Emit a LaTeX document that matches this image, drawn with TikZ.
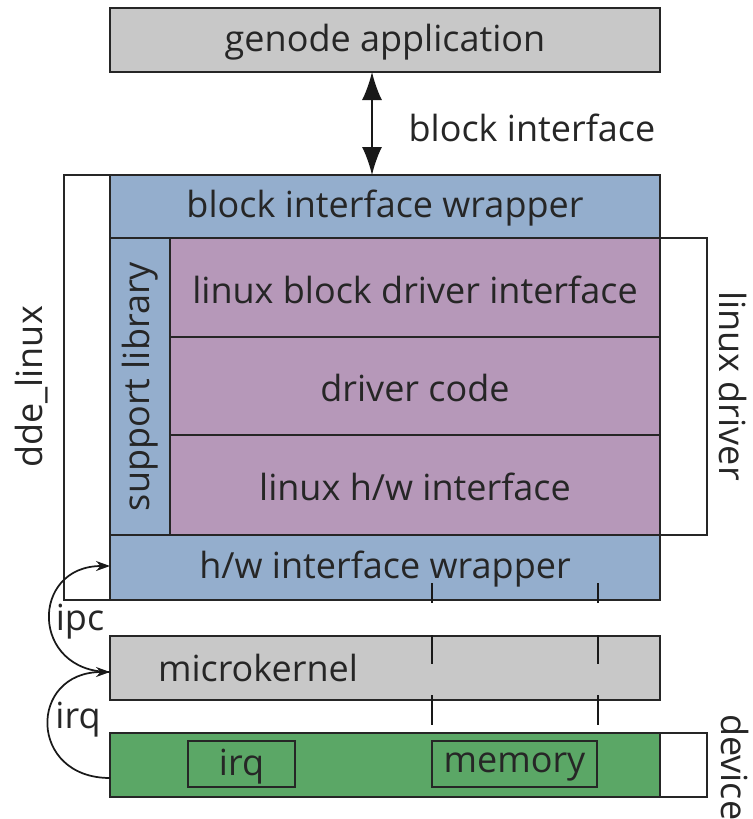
\documentclass[tikz,border=0pt]{standalone}
\usepackage{fontspec}
\setmainfont{Open Sans}
\usetikzlibrary{arrows.meta}
\definecolor{cgray}{HTML}{C8C8C8}
\definecolor{cblue}{HTML}{94AECD}
\definecolor{cpurple}{HTML}{B698B9}
\definecolor{cgreen}{HTML}{5BA766}
\def\pxu{0.75pt}
\tikzset{
  blk/.style={draw=black!85, line width=1.3pt, inner sep=0pt, outer sep=0pt},
  lbl/.style={font=\fontsize{27}{30}\selectfont, text=black!85, inner sep=0pt},
  conn/.style={draw=black!90, line width=1.3pt},
}
\begin{document}
\begin{tikzpicture}[x=0.75pt,y=-0.75pt]
\useasboundingbox (0,0) rectangle (753,819);
% outer white frames
\node[blk, fill=white, minimum width=46*\pxu, minimum height=425*\pxu] (dde) at (87,387.5) {};
\node[blk, fill=white, minimum width=47*\pxu, minimum height=297*\pxu] (ldrv) at (683.5,386.5) {};
\node[blk, fill=white, minimum width=47*\pxu, minimum height=64*\pxu] (devw) at (683.5,765) {};
% main boxes
\node[blk, fill=cgray, minimum width=550*\pxu, minimum height=64*\pxu] (app) at (385,40) {};
\node[lbl] (apptext) at (385,42) {genode application};
\node[blk, fill=cblue, minimum width=550*\pxu, minimum height=63*\pxu] (biw) at (385,206.5) {};
\node[lbl] (biwtext) at (385,208.5) {block interface wrapper};
\node[blk, fill=cblue, minimum width=60*\pxu, minimum height=297*\pxu] (sup) at (140,386.5) {};
\node[lbl, rotate=90] (suptext) at (sup.center) {support library};
\node[blk, fill=cpurple, minimum width=490*\pxu, minimum height=99*\pxu] (lbdi) at (415,287.5) {};
\node[lbl] (lbditext) at (415,289.5) {linux block driver interface};
\node[blk, fill=cpurple, minimum width=490*\pxu, minimum height=98*\pxu] (dc) at (415,386) {};
\node[lbl] (dctext) at (415,388) {driver code};
\node[blk, fill=cpurple, minimum width=490*\pxu, minimum height=100*\pxu] (lhw) at (415,485) {};
\node[lbl] (lhwtext) at (415,487) {linux h/w interface};
\node[blk, fill=cblue, minimum width=550*\pxu, minimum height=65*\pxu] (hww) at (385,567.5) {};
\node[lbl] (hwwtext) at (385,569) {h/w interface wrapper};
\node[blk, fill=cgray, minimum width=550*\pxu, minimum height=64*\pxu] (mk) at (385,668) {};
\node[lbl] (mktext) at (258,668) {microkernel};
\node[blk, fill=cgreen, minimum width=550*\pxu, minimum height=64*\pxu] (dev) at (385,765) {};
\node[blk, minimum width=107*\pxu, minimum height=46*\pxu] (irqbox) at (241.5,764) {};
\node[lbl] (irqboxtext) at (241.5,767) {irq};
\node[blk, minimum width=165*\pxu, minimum height=46*\pxu] (membox) at (514.5,764) {};
\node[lbl] (memboxtext) at (514.5,767) {memory};
% side labels
\node[lbl, rotate=90] (ddetext) at (32,387) {dde\_linux};
\node[lbl, rotate=-90] (ldtext) at (733,386) {linux driver};
\node[lbl, rotate=-90, anchor=west] (devtext) at (735,714) {device};
\node[lbl] (bitext) at (532,128) {block interface};
% block interface arrow
\draw[conn, {Latex[length=28*\pxu,width=20*\pxu]}-{Latex[length=28*\pxu,width=20*\pxu]}] (app.south -| 372,0) -- (biw.north -| 372,0);
% dashed memory lines
\coordinate (d1t) at (432,583);
\coordinate (d2t) at (598,583);
\draw[conn, dash pattern=on 20*\pxu off 32*\pxu on 29*\pxu off 31*\pxu on 30*\pxu off 100*\pxu] (d1t) -- (d1t |- membox.north);
\draw[conn, dash pattern=on 20*\pxu off 32*\pxu on 29*\pxu off 31*\pxu on 30*\pxu off 100*\pxu] (d2t) -- (d2t |- membox.north);
% ipc / irq arcs
\coordinate (mkin) at (110,672);
\coordinate (hwin) at (110,566);
\coordinate (devout) at (110,778);
\draw[conn, -{Stealth[length=14*\pxu,width=10*\pxu]}] (mkin) .. controls (30,672) and (30,566) .. (hwin);
\draw[conn, -{Stealth[length=14*\pxu,width=10*\pxu]}] (devout) .. controls (28,778) and (28,672) .. (mkin);
\node[lbl] (ipctext) at (80,622) {ipc};
\node[lbl] (irqtext) at (78,720) {irq};
\end{tikzpicture}
\end{document}
